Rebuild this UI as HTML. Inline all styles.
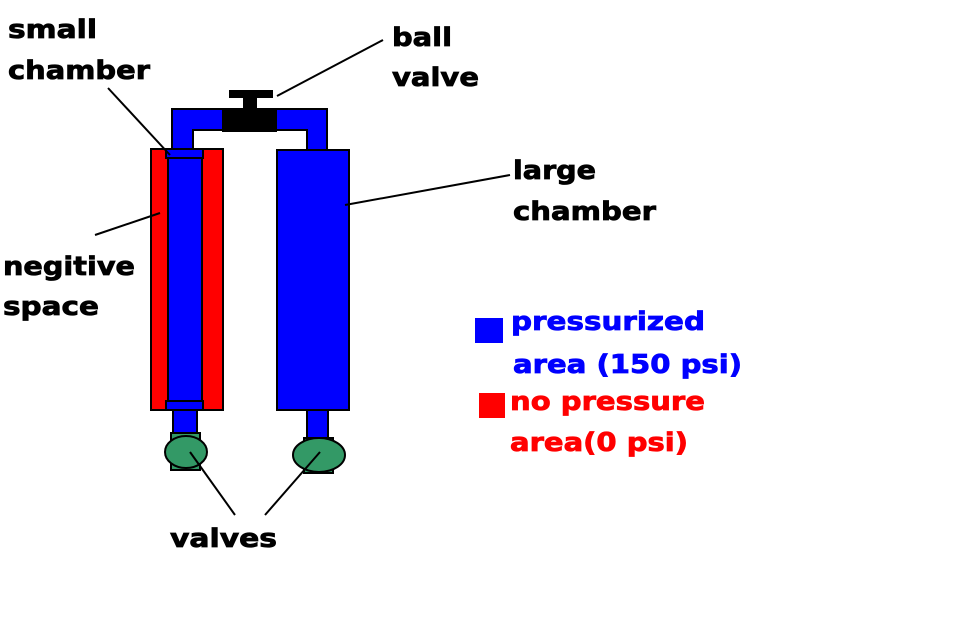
<!DOCTYPE html>
<html><head><style>html,body{margin:0;padding:0;background:#fff}svg{display:block}</style></head>
<body>
<svg width="957" height="619" xmlns="http://www.w3.org/2000/svg">
<rect width="957" height="619" fill="#fff"/>
<g stroke="#000" stroke-width="2">
<path d="M172,150 V109 H327 V150 H307 V130 H193 V150 Z" fill="#0000ff"/>
<rect x="151" y="149" width="72" height="261" fill="#ff0000"/>
<rect x="168" y="149" width="34" height="261" fill="#0000ff"/>
<rect x="166" y="149" width="37" height="9" fill="#0000ff"/>
<rect x="166" y="401" width="37" height="9" fill="#0000ff"/>
<rect x="277" y="150" width="72" height="260" fill="#0000ff"/>
<rect x="173" y="410" width="24" height="24" fill="#0000ff"/>
<rect x="307" y="410" width="21" height="28" fill="#0000ff"/>
<rect x="171" y="433" width="29" height="37" fill="#339966"/>
<ellipse cx="186" cy="452" rx="21" ry="16" fill="#339966"/>
<rect x="304" y="438" width="29" height="35" fill="#339966"/>
<ellipse cx="319" cy="455" rx="26" ry="17" fill="#339966"/>
</g>
<rect x="222" y="108" width="55" height="24" fill="#000"/>
<rect x="243" y="97" width="14" height="12" fill="#000"/>
<rect x="229" y="90" width="44" height="8" fill="#000"/>
<g stroke="#000" stroke-width="2">
<line x1="108" y1="88" x2="170" y2="155"/>
<line x1="277" y1="96" x2="383" y2="40"/>
<line x1="345" y1="205" x2="510" y2="175"/>
<line x1="95" y1="235" x2="160" y2="213"/>
<line x1="190" y1="452" x2="235" y2="515"/>
<line x1="320" y1="452" x2="265" y2="515"/>
</g>
<rect x="475" y="318" width="28" height="25" fill="#0000ff"/>
<rect x="479" y="393" width="26" height="25" fill="#ff0000"/>
<g font-family="DejaVu Sans, Liberation Sans, sans-serif" font-weight="bold" font-size="26" stroke-width="0.8">
<text x="8" y="38" textLength="89" lengthAdjust="spacingAndGlyphs" stroke="#000">small</text>
<text x="8" y="79" textLength="142" lengthAdjust="spacingAndGlyphs" stroke="#000">chamber</text>
<text x="392" y="46" textLength="60" lengthAdjust="spacingAndGlyphs" stroke="#000">ball</text>
<text x="392" y="86" textLength="87" lengthAdjust="spacingAndGlyphs" stroke="#000">valve</text>
<text x="513" y="179" textLength="83" lengthAdjust="spacingAndGlyphs" stroke="#000">large</text>
<text x="513" y="220" textLength="143" lengthAdjust="spacingAndGlyphs" stroke="#000">chamber</text>
<text x="3" y="275" textLength="132" lengthAdjust="spacingAndGlyphs" stroke="#000">negitive</text>
<text x="3" y="315" textLength="96" lengthAdjust="spacingAndGlyphs" stroke="#000">space</text>
<text x="170" y="547" textLength="107" lengthAdjust="spacingAndGlyphs" stroke="#000">valves</text>
<text x="511" y="330" fill="#0000ff" stroke="#0000ff" textLength="194" lengthAdjust="spacingAndGlyphs">pressurized</text>
<text x="513" y="373" fill="#0000ff" stroke="#0000ff" textLength="229" lengthAdjust="spacingAndGlyphs">area (150 psi)</text>
<text x="510" y="410" fill="#ff0000" stroke="#ff0000" textLength="195" lengthAdjust="spacingAndGlyphs">no pressure</text>
<text x="510" y="451" fill="#ff0000" stroke="#ff0000" textLength="178" lengthAdjust="spacingAndGlyphs">area(0 psi)</text>
</g>
</svg>
</body></html>
